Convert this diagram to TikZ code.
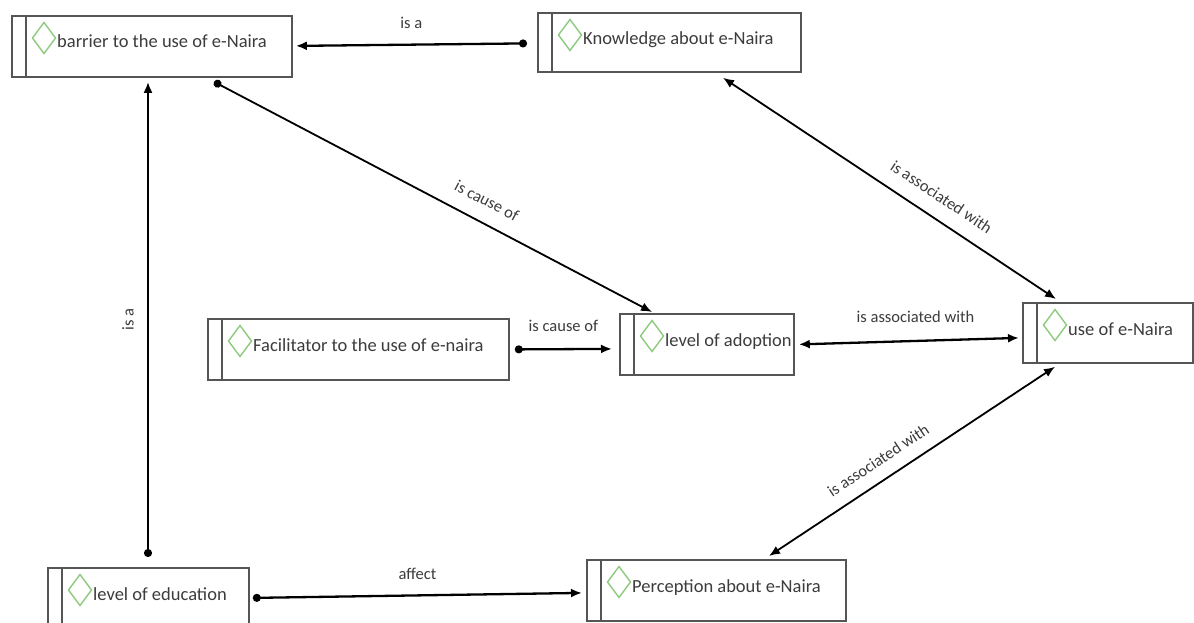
\documentclass[tikz,border=0pt]{standalone}
\usepackage{fontspec}
\setmainfont{Carlito}
\usetikzlibrary{arrows.meta,calc}
\definecolor{boxline}{HTML}{555555}
\definecolor{txt}{HTML}{3C3C3C}
\definecolor{dgreen}{HTML}{8CCB7E}
\newcommand\entbox[6]{%
  \node[ent, minimum width={#4-#2}, minimum height={#5-#3}] (#1) at (#2,#3) {};
  \draw[entline] ($(#1.north west)+(15,0)$) -- ($(#1.south west)+(15,0)$);
  \draw[diamline] ($(#1.north west)+(33,7.5)$) -- ($(#1.north west)+(44.5,23)$)
     -- ($(#1.north west)+(33,38.5)$) -- ($(#1.north west)+(21.5,23)$) -- cycle;
  \node[enttext] (#1t) at ($(#1.north west)+(46,33)$) {#6};
}
\begin{document}
\begin{tikzpicture}[x=1pt,y=-1pt,
  ent/.style={draw=boxline, line width=1.8pt, fill=white, anchor=north west, inner sep=0pt},
  entline/.style={draw=boxline, line width=1.5pt},
  diamline/.style={draw=dgreen, line width=1.4pt, line join=miter},
  enttext/.style={anchor=base west, inner sep=0pt, text=txt, font=\fontsize{18.5}{20}\selectfont},
  conn/.style={draw=black, line width=2.3pt},
  connthin/.style={draw=black, line width=1.8pt},
  lab/.style={inner sep=0pt, text=txt, font=\fontsize{16.5}{18}\selectfont},
  tip/.tip={Latex[length=11pt,width=9pt]},
  dot/.tip={Circle[length=8pt]}
]
\fill[white] (0,0) rectangle (1194,623);
\useasboundingbox (0,0) rectangle (1194,623);

\entbox{bar}{11}{15}{291}{76}{barrier to the use of e-Naira}
\entbox{know}{537}{12}{800}{71}{Knowledge about e-Naira}
\entbox{fac}{207}{318}{508}{379}{Facilitator to the use of e-naira}
\entbox{adopt}{619}{313}{793}{374}{level of adoption}
\entbox{use}{1022}{302}{1192}{362}{use of e-Naira}
\entbox{edu}{47}{567}{248}{630}{level of education}
\entbox{perc}{586}{559}{845}{620}{Perception about e-Naira}

% knowledge -> barrier
\draw[conn, dot-tip] ($(know.west)+(-10,1)$) -- node[lab, above=15pt]{is a} ($(bar.east)+(3,-0.5)$);
% barrier -> adoption
\draw[connthin, dot-tip] ($(bar.south west)+(203,4)$) -- node[lab, sloped, pos=0.6, above=15pt]{is cause of} ($(adopt.north west)+(33,-1)$);
% education -> barrier
\draw[conn, dot-tip] ($(edu.north west)+(101,-10)$) -- node[lab, sloped, pos=0.5, above=13pt]{is a} ($(bar.south west)+(137,4)$);
% facilitator -> adoption
\draw[conn, dot-tip] ($(fac.east)+(5,0)$) -- node[lab, above=16pt]{is cause of} ($(adopt.west)+(-7,4.5)$);
% adoption <-> use
\draw[conn, tip-tip] ($(adopt.east)+(4,0)$) -- node[lab, pos=0.53, above=17pt]{is associated with} ($(use.west)+(-3,5)$);
% knowledge <-> use
\draw[connthin, tip-tip] ($(know.south west)+(186,5)$) -- node[lab, sloped, pos=0.62, above=15pt]{is associated with} ($(use.north west)+(34,-3)$);
% use <-> perception
\draw[connthin, tip-tip] ($(use.south west)+(33,3)$) -- node[lab, sloped, pos=0.58, above=13pt]{is associated with} ($(perc.north west)+(183,-3)$);
% education -> perception
\draw[conn, dot-tip] ($(edu.east)+(3,-1.5)$) -- node[lab, above=15pt]{affect} ($(perc.west)+(-4,2.5)$);
\end{tikzpicture}
\end{document}
